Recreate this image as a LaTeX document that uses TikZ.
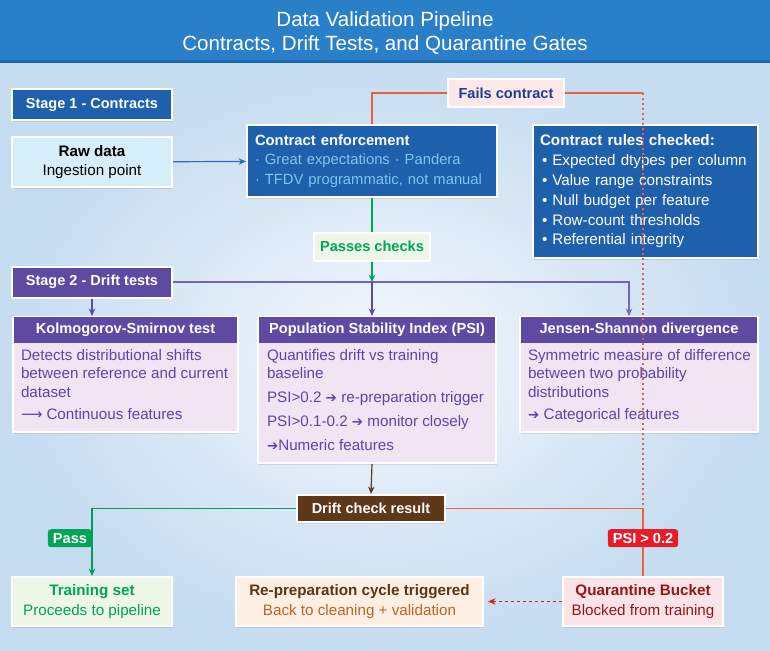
\documentclass[tikz,border=0pt]{standalone}
\usepackage{fontspec}
\setmainfont{Liberation Sans}
\newfontfamily\arrowfont{DejaVu Sans}
\usepackage{tikz}
\usetikzlibrary{shapes.misc, arrows.meta, positioning, calc, shadows}
\definecolor{titleblue}{RGB}{42,128,200}
\definecolor{titleline}{RGB}{28,105,180}
\definecolor{bglight}{RGB}{244,248,253}
\definecolor{bgdark}{RGB}{198,220,241}
\definecolor{stageblue}{RGB}{30,96,172}
\definecolor{ruleblue}{RGB}{125,198,240}
\definecolor{rawfill}{RGB}{214,238,250}
\definecolor{stagepurple}{RGB}{94,74,162}
\definecolor{cardfill}{RGB}{241,228,243}
\definecolor{cardtext}{RGB}{92,70,172}
\definecolor{driftbrown}{RGB}{94,56,24}
\definecolor{passgreen}{RGB}{0,165,85}
\definecolor{greenfill}{RGB}{238,246,232}
\definecolor{failred}{RGB}{236,96,62}
\definecolor{flagred}{RGB}{232,28,40}
\definecolor{failfill}{RGB}{252,232,232}
\definecolor{failtext}{RGB}{30,62,150}
\definecolor{quarfill}{RGB}{250,228,232}
\definecolor{quartext}{RGB}{150,22,22}
\definecolor{prepfill}{RGB}{253,240,226}
\definecolor{preptext}{RGB}{92,52,22}
\definecolor{prepline}{RGB}{190,100,40}
\definecolor{linkblue}{RGB}{52,104,192}
\newcommand{\pointer}{{\arrowfont\fontsize{13.5}{13.5}\selectfont ➔}}
\tikzset{
  boxshadow/.style={drop shadow={shadow xshift=1pt, shadow yshift=-1.5pt, opacity=0.22}},
  stagebox/.style={
    rectangle, draw=white, line width=2pt, boxshadow,
    minimum width=160pt, minimum height=31pt, inner sep=0pt,
    text=white, font=\fontsize{14.5}{17}\selectfont\bfseries
  },
  lightbox/.style={
    rectangle, draw=white, line width=2pt, boxshadow,
    minimum width=160pt, minimum height=50pt, inner sep=0pt,
    align=center, font=\fontsize{15.2}{19.5}\selectfont
  },
  darkbox/.style={
    rectangle, draw=white, line width=2pt, boxshadow, fill=stageblue,
    inner sep=0pt, align=left, text=white,
    font=\fontsize{15.2}{19.8}\selectfont
  },
  card/.style={
    rectangle, draw=white, line width=2pt, boxshadow, fill=cardfill,
    inner sep=0pt
  },
  cardhead/.style={
    rectangle, fill=stagepurple, inner sep=0pt, minimum height=26pt,
    text=white, font=\fontsize{14.6}{17}\selectfont\bfseries
  },
  cardbody/.style={
    inner sep=0pt, align=left, text=cardtext,
    font=\fontsize{15.2}{18.3}\selectfont
  },
  flag/.style={
    rectangle, draw=white, line width=1.5pt, boxshadow,
    minimum width=116pt, minimum height=28pt, inner sep=0pt,
    font=\fontsize{14.6}{17}\selectfont\bfseries
  },
  tag/.style={
    rectangle, rounded corners=3pt, inner xsep=5pt, inner ysep=0pt,
    minimum height=18pt, text=white,
    font=\fontsize{14.6}{17}\selectfont\bfseries
  },
  arrow/.style={line width=1.2pt, -{Stealth[length=7.5pt,width=6.5pt]}},
}

\begin{document}
\begin{tikzpicture}[x=1pt, y=-1pt]
  \useasboundingbox (0,0) rectangle (770,650);
  \shade[inner color=bglight, outer color=bgdark] (0,62) rectangle (770,650);
  \fill[titleblue] (0,0) rectangle (770,62);
  \fill[titleline] (0,60) rectangle (770,63);
  \node (title) [text=white, align=center, font=\fontsize{20.6}{24}\selectfont] at (385,33)
    {Data Validation Pipeline\\Contracts, Drift Tests, and Quarantine Gates};

  \node (stage1)   [stagebox, fill=stageblue] at (92,104.5) {Stage 1 - Contracts};
  \node (raw)      [lightbox, fill=rawfill, below=15pt of stage1] {\textbf{Raw data}\\Ingestion point};
  \node (contract) [darkbox, font=\fontsize{14.8}{19.6}\selectfont, minimum width=250pt, minimum height=72pt, text width=234pt, anchor=north west] at (246,124)
    {\textbf{Contract enforcement}\\\textcolor{ruleblue}{· Great expectations · Pandera}\\\textcolor{ruleblue}{· TFDV programmatic, not manual}};
  \node (rules)    [darkbox, minimum width=225pt, minimum height=133pt, text width=211pt, anchor=north west] at (532,124)
    {\textbf{Contract rules checked:}\\
     \hspace*{2pt}\textbullet\hspace{5pt}Expected dtypes per column\\
     \hspace*{2pt}\textbullet\hspace{5pt}Value range constraints\\
     \hspace*{2pt}\textbullet\hspace{5pt}Null budget per feature\\
     \hspace*{2pt}\textbullet\hspace{5pt}Row-count thresholds\\
     \hspace*{2pt}\textbullet\hspace{5pt}Referential integrity};
  \node (fails)    [flag, fill=failfill, text=failtext] at (506,93) {Fails contract};
  \node (passes)   [flag, fill=greenfill, text=passgreen, below=34pt of contract] {Passes checks};
  \node (stage2)   [stagebox, fill=stagepurple] at (92,282) {Stage 2 - Drift tests};

  \node (ks)  [card, minimum width=225pt, minimum height=115pt, anchor=north west] at (12,316) {};
  \node (ksh) [cardhead, minimum width=223pt, anchor=north] at ([yshift=-1pt]ks.north) {Kolmogorov-Smirnov test};
  \node (kst) [cardbody, anchor=north west] at ([xshift=7pt,yshift=-6pt]ksh.south west)
    {Detects distributional shifts\\between reference and current\\dataset\\[4pt]{\arrowfont\fontsize{15}{15}\selectfont ⟶}\hspace{4pt}Continuous features};

  \node (psi)  [card, minimum width=238pt, minimum height=146pt, anchor=north west] at (257,316) {};
  \node (psih) [cardhead, minimum width=236pt, anchor=north] at ([yshift=-1pt]psi.north) {Population Stability Index (PSI)};
  \node (psit) [cardbody, anchor=north west] at ([xshift=8pt,yshift=-6pt]psih.south west)
    {Quantifies drift vs training\\baseline\\[5.5pt]PSI>0.2 \pointer{} re-preparation trigger\\[5.5pt]PSI>0.1-0.2 \pointer{} monitor closely\\[5.5pt]\pointer Numeric features};

  \node (js)  [card, minimum width=238pt, minimum height=115pt, anchor=north west] at (519,316) {};
  \node (jsh) [cardhead, minimum width=236pt, anchor=north] at ([yshift=-1pt]js.north) {Jensen-Shannon divergence};
  \node (jst) [cardbody, anchor=north west] at ([xshift=7pt,yshift=-6pt]jsh.south west)
    {Symmetric measure of difference\\between two probability\\distributions\\[4pt]\pointer{} Categorical features};

  \node (drift)  [stagebox, fill=driftbrown, minimum width=148pt, minimum height=27pt] at (371,508.5) {Drift check result};
  \node (train)  [lightbox, fill=greenfill, text=passgreen, minimum height=49pt] at (92,601.5)
    {\textbf{Training set}\\Proceeds to pipeline};
  \node (prep)   [lightbox, fill=prepfill, text=prepline, minimum width=247pt, minimum height=49pt] at (359.5,601.5)
    {\textbf{\textcolor{preptext}{Re-preparation cycle triggered}}\\Back to cleaning + validation};
  \node (quar)   [lightbox, fill=quarfill, text=quartext, minimum height=49pt] at (643,601.5)
    {\textbf{Quarantine Bucket}\\Blocked from training};

  \coordinate (split) at (passes.south |- stage2.east);
  \coordinate (corner) at (quar.north |- fails.east);

  \draw [arrow, linkblue] (raw) -- (contract);
  \draw [line width=1.2pt, failred] (contract.north) |- (fails.west);
  \draw [line width=1.2pt, failred] (fails.east) -- (corner);
  \draw [line width=1.3pt, failred, dash pattern=on 2pt off 3pt] (corner) -- (quar.north |- drift.east);
  \draw [line width=1.2pt, passgreen] (contract.south) -- (passes.north);
  \draw [arrow, passgreen] (passes.south) -- (split);
  \draw [line width=1.2pt, stagepurple!85] (stage2.east) -- (split);
  \draw [arrow, stagepurple!85] (split) -| ([xshift=-10pt]js.north);
  \draw [arrow, stagepurple] (split) -- (split |- psi.north);
  \draw [arrow, stagepurple] (stage2.south) -- (stage2.south |- ks.north);
  \draw [arrow, driftbrown] (split |- psi.south) -- (drift.north);
  \draw [arrow, passgreen!80!teal] (drift.west) -| node[tag, fill=passgreen, pos=0.72, anchor=east, xshift=0.6pt] {Pass} (train.north);
  \draw [line width=1.2pt, failred!90!orange] (drift.east) -| node[tag, fill=flagred, pos=0.72] {PSI > 0.2} (quar.north);
  \draw [arrow, flagred, line width=1pt, dash pattern=on 3pt off 3pt, shorten >=4pt] (quar) -- (prep);
\end{tikzpicture}
\end{document}
